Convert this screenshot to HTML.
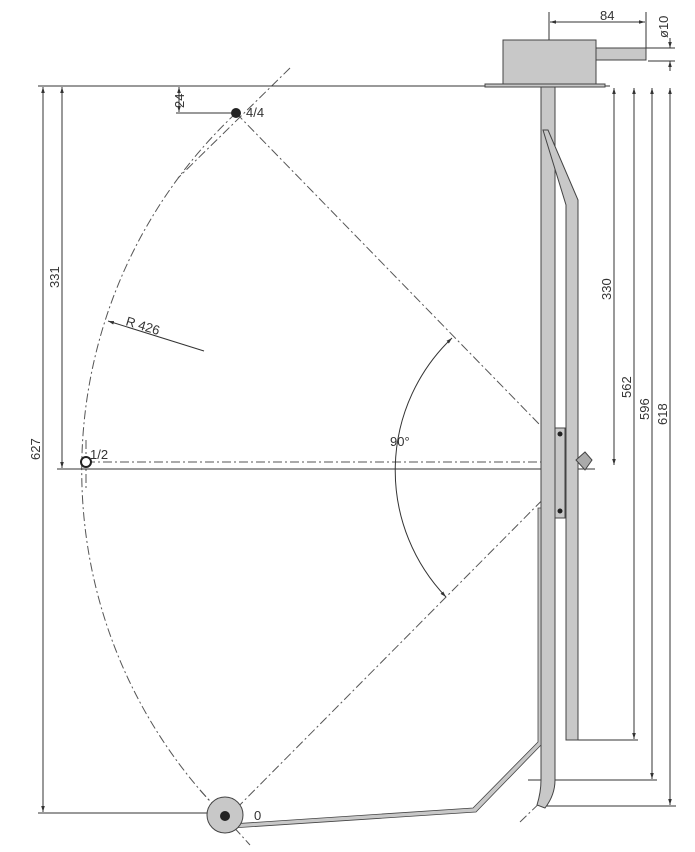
<!DOCTYPE html>
<html><head><style>body{margin:0;background:#fff}svg{display:block}text{font-family:"Liberation Sans",sans-serif;fill:#333}</style></head><body>
<svg width="695" height="852" viewBox="0 0 695 852" xmlns="http://www.w3.org/2000/svg">
<defs>
<marker id="a" viewBox="0 0 10 10" refX="10" refY="5" markerWidth="6" markerHeight="6" orient="auto-start-reverse"><path d="M0,2 L10,5 L0,8z" fill="#333"/></marker>
</defs>
<g fill="none" stroke="#555" stroke-width="1" stroke-dasharray="9,3,2,3">
<path d="M236,113 A491,491 0 0 0 225,817"/>
<line x1="290" y1="68" x2="178" y2="178"/>
<line x1="86" y1="462" x2="580" y2="462"/>
<line x1="200" y1="790" x2="250" y2="845"/>
<line x1="578" y1="464" x2="215" y2="830"/>
<line x1="236" y1="113" x2="578" y2="464"/>
<line x1="86" y1="440" x2="86" y2="490"/>
<line x1="549" y1="30" x2="549" y2="460"/>
<line x1="578" y1="470" x2="578" y2="500"/>
<line x1="520" y1="822" x2="548" y2="795"/>
</g>
<g stroke="#333" stroke-width="1" fill="none">
<line x1="38" y1="86" x2="610" y2="86"/>
<line x1="57" y1="469" x2="595" y2="469"/>
<line x1="38" y1="813" x2="215" y2="813"/>
<line x1="43" y1="87" x2="43" y2="812" marker-start="url(#a)" marker-end="url(#a)"/>
<line x1="62" y1="87" x2="62" y2="468" marker-start="url(#a)" marker-end="url(#a)"/>
<line x1="179" y1="87" x2="179" y2="112" marker-start="url(#a)" marker-end="url(#a)"/>
<line x1="176" y1="113" x2="236" y2="113"/>
<line x1="614" y1="88" x2="614" y2="465" marker-start="url(#a)" marker-end="url(#a)"/>
<line x1="634" y1="88" x2="634" y2="739" marker-start="url(#a)" marker-end="url(#a)"/>
<line x1="652" y1="88" x2="652" y2="779" marker-start="url(#a)" marker-end="url(#a)"/>
<line x1="670" y1="88" x2="670" y2="805" marker-start="url(#a)" marker-end="url(#a)"/>
<line x1="578" y1="740" x2="638" y2="740"/>
<line x1="528" y1="780" x2="657" y2="780"/>
<line x1="545" y1="806" x2="676" y2="806"/>
<line x1="549" y1="12" x2="549" y2="40"/>
<line x1="646" y1="12" x2="646" y2="60"/>
<line x1="550" y1="22" x2="645" y2="22" marker-start="url(#a)" marker-end="url(#a)"/>
<line x1="596" y1="48" x2="675" y2="48"/>
<line x1="648" y1="61" x2="675" y2="61"/>
<line x1="670" y1="38" x2="670" y2="48" marker-end="url(#a)"/>
<line x1="670" y1="71" x2="670" y2="61" marker-end="url(#a)"/>
<line x1="204" y1="351" x2="108" y2="321" marker-end="url(#a)"/>
<path d="M452,338 A183,183 0 0 0 446,597" marker-start="url(#a)" marker-end="url(#a)"/>
</g>
<g stroke="#444" stroke-width="1" fill="#c8c8c8">
<rect x="503" y="40" width="93" height="44"/>
<rect x="596" y="48" width="50" height="12"/>
<rect x="485" y="84" width="120" height="3"/>
<path d="M541,87 L555,87 L555,780 Q555,795 545,808 L537,805 Q541,792 541,780z"/>
<path d="M543,130 L548,130 L578,200 L578,740 L566,740 L566,205z"/>
<rect x="555" y="428" width="10" height="90"/>
<path d="M538,508 L541,508 L541,745 L476,812 L232,828 L231,824 L473,808 L538,742z" stroke-width="0.8"/>
<circle cx="225" cy="815" r="18"/>
<path d="M576,460 L585,452 L592,460 L585,470z" fill="#aaa"/>
</g>
<g fill="#222">
<circle cx="236" cy="113" r="5"/>
<circle cx="86" cy="462" r="5" fill="#fff" stroke="#222" stroke-width="2"/>
<circle cx="225" cy="816" r="5"/>
<circle cx="560" cy="434" r="2.5"/>
<circle cx="560" cy="511" r="2.5"/>
</g>
<g font-size="13">
<text x="600" y="20">84</text>
<text x="246" y="117">4/4</text>
<text x="90" y="459">1/2</text>
<text x="254" y="820">0</text>
<text x="390" y="446">90°</text>
<text x="125" y="325" transform="rotate(17 125 325)">R 426</text>
<text transform="translate(184,108) rotate(-90)">24</text>
<text transform="translate(59,288) rotate(-90)">331</text>
<text transform="translate(40,460) rotate(-90)">627</text>
<text transform="translate(611,300) rotate(-90)">330</text>
<text transform="translate(631,398) rotate(-90)">562</text>
<text transform="translate(649,420) rotate(-90)">596</text>
<text transform="translate(667,425) rotate(-90)">618</text>
<text transform="translate(668,38) rotate(-90)">ø10</text>
</g>
</svg>
</body></html>
